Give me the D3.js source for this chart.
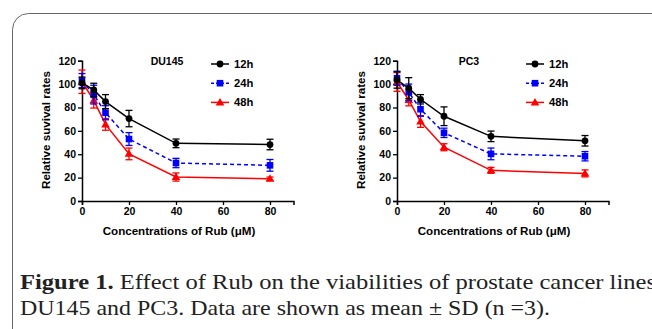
<!DOCTYPE html>
<html><head><meta charset="utf-8">
<script src="https://cdn.jsdelivr.net/npm/d3@7"></script>
<style>html,body{margin:0;padding:0;background:#fff;}svg{display:block;}</style>
</head><body>
<svg id="c" width="652" height="329"></svg>
<script>
const conc = [0, 5, 10, 20, 40, 80];
const seriesNames = ["12h", "24h", "48h"];
const xTicks = [0, 20, 40, 60, 80];
const yTicks = [0, 20, 40, 60, 80, 100, 120];
const panels = ["DU145", "PC3"];
// DU145 means / SD
const du145_12h = [101, 95, 85, 70.5, 49.3, 48.3];
const du145_12h_sd = [5, 5.7, 6, 7, 3.7, 4.5];
const du145_24h = [103, 91, 75.5, 53, 32.5, 30.5];
const du145_24h_sd = [6, 8, 6, 5.5, 4, 5];
const du145_48h = [102, 86, 65.5, 40.3, 20.5, 19];
const du145_48h_sd = [10, 6.5, 5, 5, 3.5, 1.5];
// PC3
const pc3_12h = [103.5, 96.5, 87, 72.5, 55.3, 51.5];
const pc3_12h_sd = [7, 9, 4, 8, 4.5, 4.5];
const pc3_24h = [105, 93, 78.5, 58.3, 40.3, 38.3];
const pc3_24h_sd = [6, 7, 6, 4, 5, 4];
const pc3_48h = [101.8, 86.4, 68, 46, 26.2, 23.6];
const pc3_48h_sd = [8, 5, 5, 3, 2.5, 3];
const xLabel = "Concentrations of Rub (\u03bcM)";
const yLabel = "Relative suvival rates";
const captionBold = "Figure 1.";
const captionLine1 = " Effect of Rub on the viabilities of prostate cancer lines";
const captionLine2 = "DU145 and PC3. Data are shown as mean \u00b1 SD (n =3).";

const colors = {"12h": "#000000", "24h": "#0000ff", "48h": "#ff0000"};
const dashes = {"12h": null, "24h": "4,3", "48h": null};
const data = {
  DU145: {"12h": [du145_12h, du145_12h_sd], "24h": [du145_24h, du145_24h_sd], "48h": [du145_48h, du145_48h_sd]},
  PC3: {"12h": [pc3_12h, pc3_12h_sd], "24h": [pc3_24h, pc3_24h_sd], "48h": [pc3_48h, pc3_48h_sd]}
};

const svg = d3.select("#c");
// rounded frame
svg.append("rect").attr("x", 12.5).attr("y", 13.5).attr("width", 700).attr("height", 340)
  .attr("rx", 16).attr("ry", 16).attr("fill", "none").attr("stroke", "#666").attr("stroke-width", 1);

const font = "'Liberation Sans', Arial, sans-serif";
const layout = {DU145: {x0: 82, title: 167, leg: 211}, PC3: {x0: 397, title: 469, leg: 526}};

function marker(g, name, x, y) {
  const c = colors[name];
  if (name === "12h") g.append("circle").attr("cx", x).attr("cy", y).attr("r", 3.4).attr("fill", c);
  else if (name === "24h") g.append("rect").attr("x", x - 3.3).attr("y", y - 3.3).attr("width", 6.6).attr("height", 6.6).attr("fill", c);
  else g.append("path").attr("d", d3.symbol().type(d3.symbolTriangle).size(32)()).attr("transform", `translate(${x},${y+0.5})`).attr("fill", c);
}

panels.forEach(p => {
  const L = layout[p];
  const x = d3.scaleLinear().domain([0, 90]).range([L.x0, L.x0 + 211.5]);
  const y = d3.scaleLinear().domain([0, 120]).range([201, 60.7]);
  const g = svg.append("g");

  const xa = g.append("g").attr("transform", "translate(0,201)")
    .call(d3.axisBottom(x).tickValues(xTicks).tickSize(4).tickPadding(3).tickFormat(d3.format("d")));
  const ya = g.append("g").attr("transform", `translate(${L.x0},0)`)
    .call(d3.axisLeft(y).tickValues(yTicks).tickSize(4).tickPadding(2).tickFormat(d3.format("d")));
  [xa, ya].forEach(a => {
    a.select(".domain").attr("stroke", "#000").attr("stroke-width", 1.5);
    a.selectAll(".tick line").attr("stroke", "#000").attr("stroke-width", 1.3);
    a.selectAll("text").attr("font-family", font).attr("font-weight", "bold").attr("font-size", 10.5).attr("fill", "#000");
  });

  g.append("text").attr("x", (x(0) + x(80)) / 2 + 3).attr("y", 235).attr("text-anchor", "middle")
    .attr("font-family", font).attr("font-weight", "bold").attr("font-size", 11.6).text(xLabel);
  g.append("text").attr("transform", `translate(${L.x0 - 32},130) rotate(-90)`).attr("text-anchor", "middle")
    .attr("font-family", font).attr("font-weight", "bold").attr("font-size", 11.6).text(yLabel);
  g.append("text").attr("x", L.title).attr("y", 65).attr("text-anchor", "middle")
    .attr("font-family", font).attr("font-weight", "bold").attr("font-size", 10.5).text(p);

  const order = ["48h", "24h", "12h"];
  order.forEach(s => {
    const [m, sd] = data[p][s];
    const c = colors[s];
    const pts = conc.map((cx, i) => [x(cx), y(m[i]), y(m[i] + sd[i]), y(m[i] - sd[i])]);
    g.append("path").attr("d", d3.line()(pts.map(q => [q[0], q[1]])))
      .attr("fill", "none").attr("stroke", c).attr("stroke-width", 1.5).attr("stroke-dasharray", dashes[s]);
    pts.forEach(q => {
      g.append("line").attr("x1", q[0]).attr("x2", q[0]).attr("y1", q[2]).attr("y2", q[3]).attr("stroke", c).attr("stroke-width", 1.3);
      [q[2], q[3]].forEach(yy => g.append("line").attr("x1", q[0] - 3.5).attr("x2", q[0] + 3.5).attr("y1", yy).attr("y2", yy).attr("stroke", c).attr("stroke-width", 1.3));
      marker(g, s, q[0], q[1]);
    });
  });

  seriesNames.forEach((s, i) => {
    const ly = 64 + i * 19.2;
    g.append("line").attr("x1", L.leg).attr("x2", L.leg + 18).attr("y1", ly).attr("y2", ly)
      .attr("stroke", colors[s]).attr("stroke-width", 1.5).attr("stroke-dasharray", dashes[s] ? "3,2" : null);
    marker(g, s, L.leg + 9, ly);
    g.append("text").attr("x", L.leg + 23).attr("y", ly + 4).attr("font-family", font).attr("font-weight", "bold")
      .attr("font-size", 11.2).text(s);
  });
});

const cap = svg.append("g").attr("font-family", "'Liberation Serif', 'Times New Roman', serif").attr("font-size", 21).attr("fill", "#222");
const t1 = cap.append("text").attr("x", 20).attr("y", 288.5).attr("textLength", 636).attr("lengthAdjust", "spacingAndGlyphs");
t1.append("tspan").attr("font-weight", "bold").text(captionBold);
t1.append("tspan").text(captionLine1);
cap.append("text").attr("x", 20).attr("y", 315).attr("textLength", 530).attr("lengthAdjust", "spacingAndGlyphs").text(captionLine2);
</script>
</body></html>
